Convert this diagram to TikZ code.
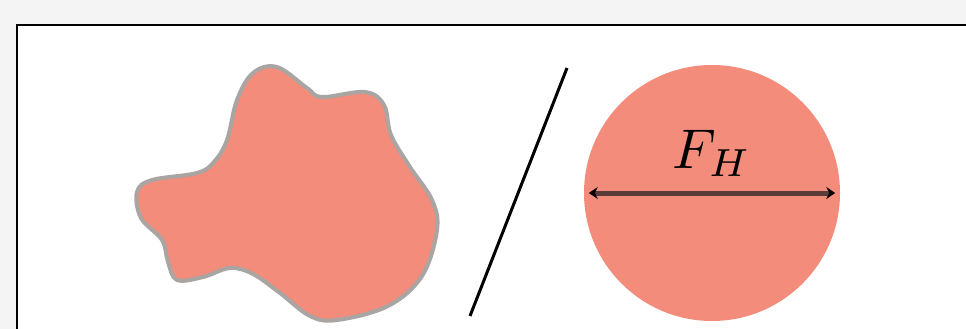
\documentclass[tikz,border=0pt]{standalone}
\usepackage{xcolor}
\usepackage{tikz}
\usetikzlibrary{arrows.meta, positioning, calc}
\definecolor{salmon}{HTML}{F38C7B}
\definecolor{blobedge}{HTML}{A9A5A2}
\definecolor{pagebg}{HTML}{F4F4F4}
\definecolor{darrow}{HTML}{5A3B38}

\begin{document}
\begin{tikzpicture}[x=1pt, y=-1pt]
    \tikzstyle{disc}=[circle, fill=salmon, inner sep=0pt, minimum size=256pt]
    \tikzstyle{darr}=[{Stealth[length=9pt, width=12pt, color=black]}-{Stealth[length=9pt, width=12pt, color=black]},
                      darrow, line width=5pt]

    % page and frame
    \useasboundingbox (0,0) rectangle (966,329);
    \fill[pagebg] (0,0) rectangle (966,329);
    \begin{scope}
      \clip (0,0) rectangle (966,329);
      \draw[black, line width=2.2pt, fill=white] (17,25) rectangle (990,360);
    \end{scope}

    % irregular particle
    \draw[blobedge, line width=4pt, fill=salmon] plot[smooth cycle, tension=0.6] coordinates {
      (277,67) (307,88) (322,97) (365,92) (384,105) (391,135)
      (410,167) (432,200) (437,230) (422,276) (388,306) (337,320)
      (310,316) (280,293) (253,274) (230,268) (203,277) (177,280)
      (168,262) (162,240) (141,218) (137,192) (152,180) (197,173)
      (214,162) (227,140) (237,100) (253,73)};

    % separator
    \coordinate (st) at (567,68);
    \coordinate (sb) at (470,316);
    \draw[black, line width=3pt] (st) -- (sb);

    % equivalent disc
    \node[disc] (eq) at (712,193) {};
    \coordinate (wl) at ($(eq.west)+(5,0)$);
    \coordinate (wr) at ($(eq.east)+(-5,0)$);
    \draw[darr] (wl) -- (wr);
    \node[scale=5.6, inner sep=0pt, above=15pt of eq.center] (fh) {$F_H$};
  \end{tikzpicture}
\end{document}
